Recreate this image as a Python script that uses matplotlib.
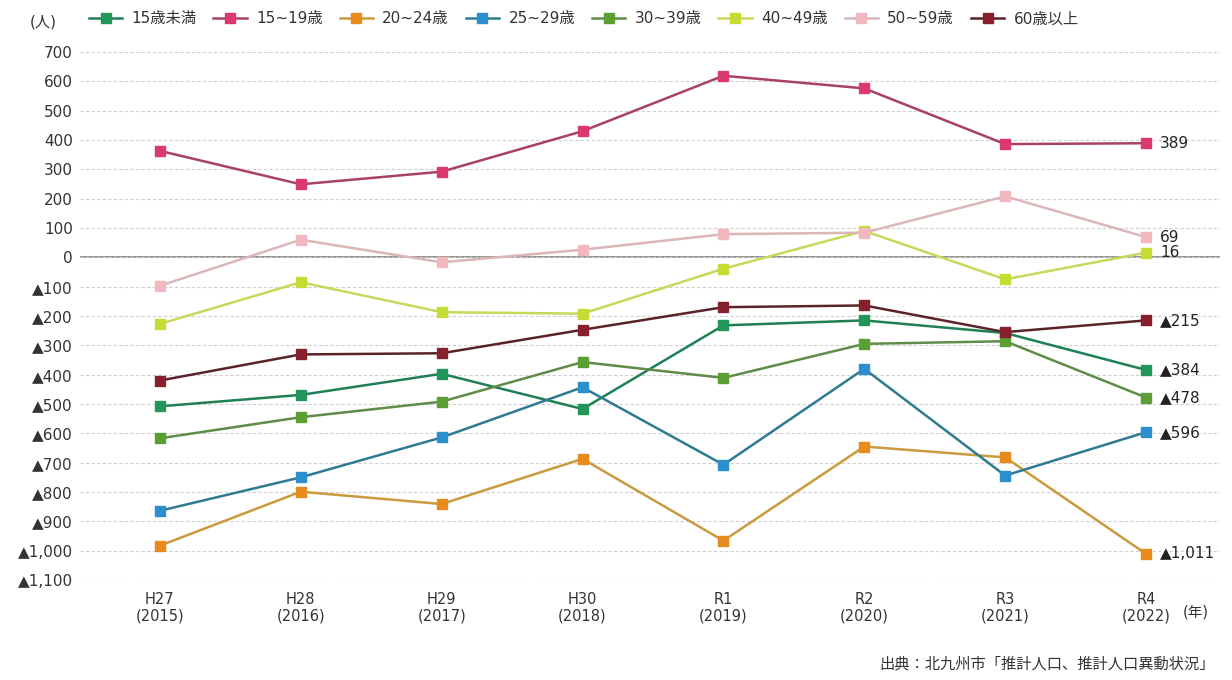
import matplotlib
matplotlib.use("Agg")
import matplotlib.pyplot as plt
from matplotlib.ticker import FuncFormatter, MultipleLocator

plt.rcParams['font.family'] = ['DejaVu Sans', 'Noto Sans CJK JP']

# Fiscal years (Japanese era / western year)
years = ["H27\n(2015)", "H28\n(2016)", "H29\n(2017)", "H30\n(2018)",
         "R1\n(2019)", "R2\n(2020)", "R3\n(2021)", "R4\n(2022)"]

# Net migration by age group (persons)
under15 = [-508, -469, -397, -517, -232, -215, -258, -384]
age15_19 = [363, 249, 292, 430, 619, 576, 386, 389]
age20_24 = [-983, -799, -841, -687, -966, -645, -682, -1011]
age25_29 = [-864, -750, -614, -443, -707, -380, -744, -596]
age30_39 = [-617, -545, -492, -357, -411, -295, -286, -478]
age40_49 = [-227, -85, -187, -192, -39, 90, -75, 16]
age50_59 = [-97, 60, -17, 26, 79, 84, 208, 69]
age60_over = [-420, -331, -327, -247, -170, -164, -255, -215]

series = [
    ("15歳未満", under15, "#22955a", "#1f7f55"),
    ("15~19歳", age15_19, "#dc3a6e", "#a8435f"),
    ("20~24歳", age20_24, "#e68b1c", "#c99a3e"),
    ("25~29歳", age25_29, "#2a8fcc", "#2f7a93"),
    ("30~39歳", age30_39, "#5b9e34", "#5f8c48"),
    ("40~49歳", age40_49, "#c6dc34", "#c7d95a"),
    ("50~59歳", age50_59, "#f2b8bf", "#dcb6b8"),
    ("60歳以上", age60_over, "#86202c", "#5a2229"),
]


def fmt_value(v):
    s = f"{abs(int(v)):,}"
    return "▲" + s if v < 0 else s


fig = plt.figure(figsize=(12.32, 6.80), dpi=100)
ax = fig.add_axes([80 / 1232, 1 - 580 / 680, 1140 / 1232, 528 / 680])

x = list(range(len(years)))
handles = []
for label, vals, mcol, lcol in series:
    ax.plot(x, vals, color=lcol, lw=1.8, zorder=3)
    ax.plot(x, vals, ls="none", marker="s", ms=7, mfc=mcol, mec=mcol, zorder=4)
    h, = ax.plot([], [], color=lcol, lw=1.8, marker="s", ms=7, mfc=mcol, mec=mcol)
    handles.append(h)
    ax.annotate(fmt_value(vals[-1]), xy=(x[-1], vals[-1]), xytext=(10, 0),
                textcoords="offset points", va="center", ha="left",
                fontsize=11, color="#222222")

ax.set_ylim(-1100, 700)
ax.set_xlim(-0.567, 7.525)
ax.yaxis.set_major_locator(MultipleLocator(100))
ax.yaxis.set_major_formatter(FuncFormatter(lambda v, p: fmt_value(v)))
ax.set_xticks(x)
ax.set_xticklabels(years, fontsize=10.5, color="#333333", linespacing=1.05)
ax.tick_params(axis="y", labelsize=11, colors="#333333", length=0, pad=5)
ax.tick_params(axis="x", length=0, pad=9)
ax.grid(axis="y", color="#cfcfcf", ls=(0, (3, 2)), lw=0.8, zorder=0)
ax.axhline(0, color="#8c8c8c", lw=1.3, zorder=1)
for sp in ax.spines.values():
    sp.set_visible(False)

fig.text(30 / 1232, 1 - 22 / 680, "(人)", fontsize=11, color="#333333", va="center")
fig.text(1183 / 1232, 1 - 612 / 680, "(年)", fontsize=10.5, color="#333333", va="center")
fig.text(1215 / 1232, 1 - 664 / 680, "出典：北九州市「推計人口、推計人口異動状況」",
         fontsize=11, color="#333333", va="center", ha="right")

fig.legend(handles, [s[0] for s in series], loc="center left",
           bbox_to_anchor=(75 / 1232, 1 - 19 / 680), ncol=8, frameon=False,
           fontsize=11, handlelength=2.2, handletextpad=0.6, columnspacing=1.1,
           labelcolor="#333333")

fig.savefig("out.png", dpi=100, facecolor="white")
